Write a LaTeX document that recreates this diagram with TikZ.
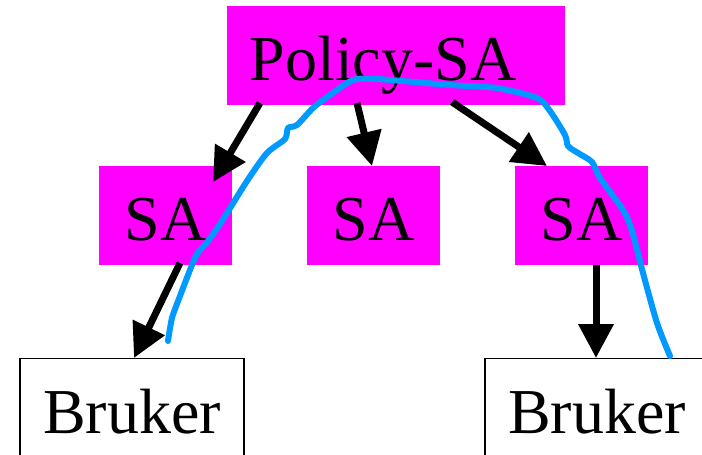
\documentclass[tikz,border=0pt]{standalone}
\usepackage{fontspec}
\setmainfont{Liberation Serif}
\usetikzlibrary{arrows.meta}
\definecolor{mag}{RGB}{255,0,255}
\definecolor{pen}{RGB}{0,153,255}
\tikzset{
  magbox/.style={fill=mag, draw=none, inner sep=0pt, text height=49pt, text depth=0pt, minimum height=99pt, font=\fontsize{64}{64}\selectfont},
  userbox/.style={fill=white, draw=black, line width=1.3pt, inner sep=0pt, text height=50pt, text depth=0pt, minimum height=100pt, minimum width=224pt, font=\fontsize{64}{64}\selectfont},
  arr/.style={line width=7pt, -{Triangle[length=34pt,width=34pt]}},
  scribble/.style={pen, line width=6pt, line cap=round, line join=round}
}
\begin{document}
\begin{tikzpicture}[x=1pt,y=-1pt]
\useasboundingbox (0,0) rectangle (702,455);
\node[magbox, minimum width=338pt] (policy) at (396,55.5) {Policy-SA\rule{26pt}{0pt}};
\node[magbox, minimum width=133pt] (sa1) at (165.5,215.5) {SA};
\node[magbox, minimum width=133pt] (sa2) at (373.5,215.5) {SA};
\node[magbox, minimum width=133pt] (sa3) at (581.5,215.5) {SA};
\node[userbox] (u1) at (132,408.7) {Bruker};
\node[userbox] (u2) at (597,408.7) {Bruker};
% connector end points
\coordinate (p1) at (260,103);
\coordinate (t1) at (213,182);
\coordinate (p2) at (357,103);
\coordinate (t2) at (372,166);
\coordinate (p3) at (452,102);
\coordinate (t3) at (547,166);
\coordinate (s1) at (180,263);
\coordinate (b1) at (134,358);
\coordinate (s3) at (596,265);
\coordinate (b3) at (596,358);
\draw[arr] (p1) -- (t1);
\draw[arr] (p2) -- (t2);
\draw[arr] (p3) -- (t3);
\draw[arr] (s1) -- (b1);
\draw[arr] (s3) -- (b3);
% freehand blue stroke
\draw[scribble] plot[smooth, tension=0.45] coordinates {
 (168,341) (172,318) (180,296) (190,270) (197,254) (208,241) (222,221)
 (247,181) (267,153) (285,139) (288,128) (297,125) (313,108) (330,95)
 (353,80) (377,79) (450,85) (497,88) (537,98) (550,111) (565,135)
 (568,146) (578,153) (592,162) (600,178) (623,210) (632,231) (643,273)
 (657,323) (670,356)};
\end{tikzpicture}
\end{document}
